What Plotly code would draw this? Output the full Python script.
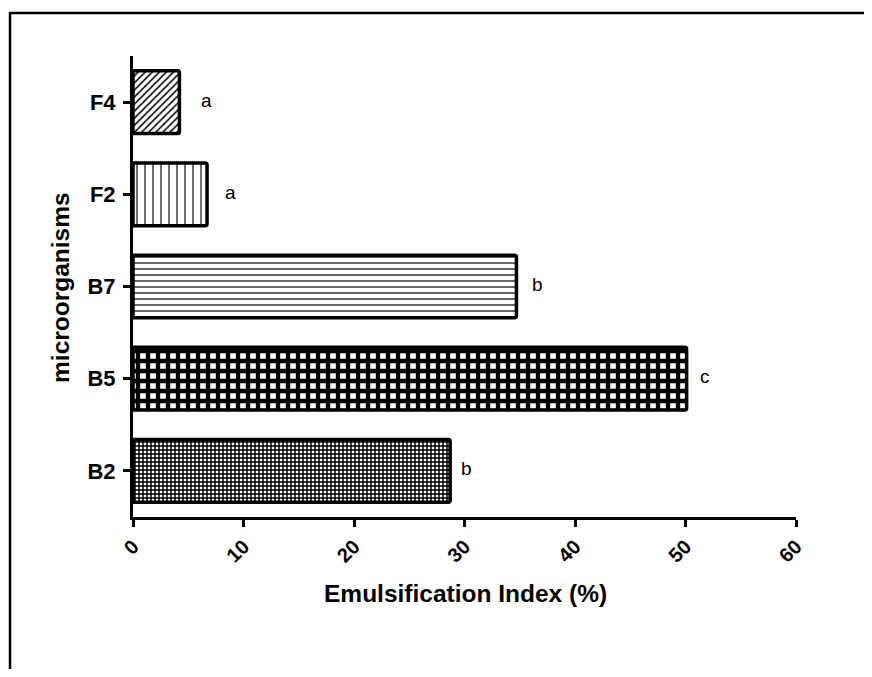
import plotly.graph_objects as go

# Data
categories = ["B2", "B5", "B7", "F2", "F4"]
values = [28.7, 50.1, 34.7, 6.7, 4.2]
letters = ["b", "c", "b", "a", "a"]

# Styles
pattern_shapes = ["+", "+", "-", "|", "/"]
pattern_sizes = [4, 10, 6, 8, 5]
pattern_solidity = [0.6, 0.68, 0.2, 0.14, 0.3]
letter_shift = [16, 18, 21, 23, 27]

FONT = "Liberation Sans, Arial, sans-serif"

fig = go.Figure()
fig.add_trace(go.Bar(
    x=values, y=categories, orientation="h", width=0.68,
    marker=dict(
        color="white",
        line=dict(color="black", width=3.5),
        cornerradius=2,
        pattern=dict(shape=pattern_shapes, size=pattern_sizes,
                     solidity=pattern_solidity, fgcolor="black",
                     bgcolor="white", fillmode="replace"),
    ),
    showlegend=False,
))

for c, v, t, s in zip(categories, values, letters, letter_shift):
    fig.add_annotation(x=v, y=c, text=t, showarrow=False, xshift=s, yshift=2,
                       xanchor="center", yanchor="middle",
                       font=dict(family=FONT, size=19, color="black"))

# axis titles as annotations
fig.add_annotation(xref="paper", yref="paper", x=0.5008, y=-0.167,
                   text="Emulsification Index (%)", showarrow=False,
                   xanchor="center", yanchor="middle",
                   font=dict(family=FONT, size=24.5, color="black", weight="bold"))
fig.add_annotation(xref="paper", yref="paper", x=-0.1086, y=0.499,
                   text="microorganisms", showarrow=False, textangle=-90,
                   xanchor="center", yanchor="middle",
                   font=dict(family=FONT, size=24.5, color="black", weight="bold"))

# outer frame (extends past the figure edges on the right and bottom)
fig.add_shape(type="rect", xref="paper", yref="paper",
              x0=-0.1855, y0=-2, x1=3, y1=1.0933,
              line=dict(color="black", width=2.5), fillcolor="rgba(0,0,0,0)",
              layer="below")

fig.update_layout(
    width=856, height=661,
    margin=dict(l=125, r=68, t=48, b=152),
    plot_bgcolor="white", paper_bgcolor="white",
    font=dict(family=FONT, color="black"),
    xaxis=dict(range=[0, 60], dtick=10, tick0=0, showgrid=False, zeroline=False,
               showline=True, linecolor="black", linewidth=3,
               ticks="outside", ticklen=7, tickwidth=3, tickcolor="black",
               tickangle=-45,
               tickfont=dict(family=FONT, size=20, color="black", weight="bold")),
    yaxis=dict(type="category", categoryorder="array", categoryarray=categories,
               range=[-0.5, 4.5], showgrid=False, zeroline=False,
               showline=True, linecolor="black", linewidth=3,
               ticks="outside", ticklen=7, tickwidth=3, tickcolor="black",
               ticklabelstandoff=3,
               tickfont=dict(family=FONT, size=22, color="black", weight="bold")),
)

fig.write_html("out.html")
